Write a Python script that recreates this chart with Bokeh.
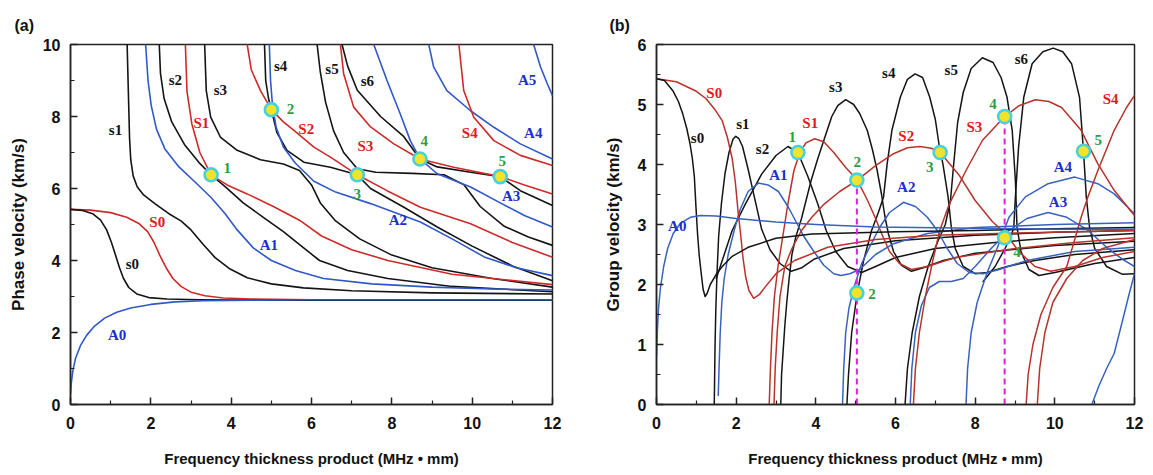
from bokeh.plotting import figure
from bokeh.layouts import row
from bokeh.models import Range1d, FixedTicker, ColumnDataSource
from bokeh.embed import file_html
from bokeh.resources import INLINE
from bokeh.core.properties import value

BLACK = "#141414"
RED = "#cf2a2a"
BLUE = "#3058c8"
RED2 = "#b8332b"
BLUE2 = "#3862c0"
LBL_RED = "#e01b1b"
LBL_BLUE = "#1b2ed0"
GREEN = "#2e9e44"
MAGENTA = "#e020e0"

# ---------------- (a) phase velocity: (fd, cp) ----------------
pv_A0 = [(0.0,0.3),(0.02,0.6),(0.06,0.95),(0.13,1.3),(0.25,1.64),(0.4,1.92),(0.6,2.18),(0.85,2.4),(1.15,2.56),(1.5,2.68),(2.0,2.78),(2.6,2.85),(3.3,2.88),(4.5,2.9),(6.0,2.91),(12.0,2.91)]
pv_s0 = [(0.0,5.42),(0.3,5.39),(0.55,5.3),(0.75,5.12),(0.9,4.85),(1.02,4.5),(1.12,4.15),(1.22,3.8),(1.32,3.5),(1.45,3.25),(1.65,3.07),(1.95,2.97),(2.4,2.93),(3.2,2.91),(4.0,2.9),(12.0,2.9)]
pv_S0 = [(0.0,5.42),(0.5,5.4),(1.0,5.33),(1.4,5.2),(1.7,5.03),(1.92,4.8),(2.08,4.5),(2.22,4.15),(2.38,3.8),(2.55,3.5),(2.75,3.28),(3.0,3.12),(3.35,3.02),(3.8,2.96),(4.5,2.93),(6.0,2.91),(12.0,2.9)]
pv_s1 = [(1.41,10.0),(1.44,8.7),(1.47,7.4),(1.5,6.8),(1.56,6.35),(1.66,6.05),(1.82,5.82),(2.1,5.58),(2.45,5.3),(2.75,5.1),(3.0,4.85),(3.3,4.45),(3.6,4.08),(3.95,3.78),(4.4,3.52),(5.0,3.35),(5.8,3.24),(7.0,3.16),(9.0,3.1),(12.0,3.07)]
pv_A1 = [(1.87,10.0),(1.93,9.0),(2.01,8.3),(2.14,7.65),(2.35,7.1),(2.7,6.6),(3.1,6.18),(3.5,5.75),(3.85,5.3),(4.15,4.85),(4.55,4.35),(5.0,4.0),(5.6,3.72),(6.3,3.5),(7.5,3.35),(9.0,3.26),(10.5,3.21),(12.0,3.18)]
pv_s2 = [(2.21,10.0),(2.24,9.2),(2.33,8.5),(2.52,7.85),(2.85,7.2),(3.2,6.72),(3.5,6.38),(3.85,6.05),(4.3,5.6),(4.8,5.2),(5.3,4.8),(5.75,4.4),(6.2,4.0),(6.9,3.72),(7.9,3.5),(9.5,3.28),(12.0,3.13)]
pv_S1 = [(2.86,10.0),(2.9,8.7),(3.02,7.8),(3.22,7.0),(3.5,6.38),(3.9,6.1),(4.4,5.85),(5.05,5.5),(5.7,5.12),(6.25,4.68),(7.0,4.3),(7.9,4.0),(9.5,3.62),(12.0,3.33)]
pv_s3 = [(3.34,10.0),(3.38,8.72),(3.49,7.98),(3.73,7.43),(4.15,7.06),(4.73,6.8),(5.3,6.68),(5.7,6.5),(6.0,6.1),(6.22,5.6),(6.6,5.1),(7.2,4.6),(8.0,4.15),(9.0,3.8),(10.5,3.5),(12.0,3.26)]
pv_s4 = [(4.83,10.0),(4.86,9.0),(4.93,8.5),(5.0,8.19),(5.14,7.55),(5.39,7.06),(5.81,6.73),(6.47,6.59),(7.14,6.38),(7.47,6.0),(8.3,5.48),(9.13,4.93),(10.0,4.4),(11.0,3.85),(12.0,3.44)]
pv_S2 = [(4.4,10.0),(4.5,9.3),(4.73,8.72),(5.0,8.19),(5.3,7.85),(5.6,7.58),(6.06,7.15),(6.5,6.85),(7.14,6.38),(7.88,5.94),(8.71,5.48),(9.96,5.02),(11.0,4.5),(12.0,4.09)]
pv_A2 = [(4.95,10.0),(4.98,9.0),(5.03,8.3),(5.12,7.7),(5.3,7.15),(5.6,6.7),(6.06,6.2),(6.6,5.9),(7.47,5.58),(8.71,5.07),(9.5,4.6),(10.3,4.1),(11.1,3.8),(12.0,3.58)]
pv_s5 = [(6.14,10.0),(6.22,9.23),(6.35,8.4),(6.55,7.6),(6.8,7.0),(7.14,6.55),(7.6,6.45),(8.5,6.42),(9.3,6.38),(9.8,6.1),(10.2,5.5),(10.8,4.95),(11.4,4.65),(12.0,4.42)]
pv_s6 = [(6.76,10.0),(6.9,9.4),(7.14,8.73),(7.72,8.0),(8.3,7.44),(8.7,6.82),(9.13,6.6),(9.96,6.45),(10.7,6.33),(11.2,5.94),(12.0,5.53)]
pv_S3 = [(6.72,10.0),(6.8,9.19),(7.05,8.26),(7.47,7.71),(8.05,7.24),(8.7,6.82),(9.54,6.59),(10.7,6.33),(11.3,6.1),(12.0,5.85)]
pv_A3 = [(7.55,10.0),(7.88,9.0),(8.21,8.07),(8.46,7.33),(8.7,6.82),(9.13,6.41),(9.96,6.04),(10.7,5.6),(11.3,5.25),(12.0,4.93)]
pv_S4 = [(9.67,10.0),(9.79,8.72),(10.04,7.98),(10.54,7.33),(11.2,6.92),(12.0,6.64)]
pv_A4 = [(8.92,10.0),(9.04,9.38),(9.37,8.72),(9.96,8.16),(10.54,7.7),(11.2,7.24),(12.0,6.82)]
pv_A5 = [(11.53,10.0),(11.7,9.38),(11.87,8.91),(12.0,8.58)]

pv_curves = [
    (pv_s1, BLACK), (pv_s2, BLACK), (pv_s3, BLACK), (pv_s4, BLACK), (pv_s5, BLACK), (pv_s6, BLACK),
    (pv_A1, BLUE), (pv_A2, BLUE), (pv_A3, BLUE), (pv_A4, BLUE), (pv_A5, BLUE),
    (pv_S1, RED), (pv_S2, RED), (pv_S3, RED), (pv_S4, RED),
    (pv_S0, RED), (pv_s0, BLACK), (pv_A0, BLUE),
]

pv_points_fd = [3.5, 5.0, 7.14, 8.7, 10.7]
pv_points_cp = [6.38, 8.19, 6.38, 6.82, 6.33]
pv_num_text = ["1", "2", "3", "4", "5"]
pv_num_fd = [3.9, 5.48, 7.14, 8.81, 10.75]
pv_num_cp = [6.56, 8.21, 5.85, 7.33, 6.76]

pv_lbl_text = ["s0", "s1", "s2", "s3", "s4", "s5", "s6", "S0", "S1", "S2", "S3", "S4", "A0", "A1", "A2", "A3", "A4", "A5"]
pv_lbl_fd = [1.54, 1.12, 2.61, 3.73, 5.23, 6.51, 7.39, 2.16, 3.26, 5.87, 7.34, 9.94, 1.16, 4.94, 8.15, 10.97, 11.52, 11.37]
pv_lbl_cp = [3.91, 7.63, 9.02, 8.74, 9.39, 9.32, 8.98, 5.06, 7.82, 7.66, 7.19, 7.54, 1.94, 4.42, 5.13, 5.78, 7.54, 9.02]

# ---------------- (b) group velocity: (fd, cg) ----------------
gv_A0 = [(0.0,0.8),(0.02,1.2),(0.05,1.6),(0.1,1.95),(0.18,2.3),(0.28,2.6),(0.42,2.85),(0.6,3.02),(0.85,3.12),(1.1,3.15),(1.5,3.14),(2.0,3.1),(3.0,3.04),(4.0,3.0),(5.5,2.96),(7.5,2.94),(10.0,2.92),(12.0,2.92)]
gv_s0 = [(0.0,5.43),(0.2,5.4),(0.41,5.23),(0.55,5.05),(0.66,4.84),(0.76,4.6),(0.84,4.35),(0.9,4.1),(0.95,3.8),(0.99,3.3),(1.03,2.85),(1.07,2.5),(1.12,2.2),(1.17,1.92),(1.22,1.8),(1.27,1.85),(1.35,2.0),(1.5,2.17),(1.65,2.3),(1.9,2.47),(2.3,2.62),(3.0,2.77),(3.9,2.84),(6.0,2.88),(8.0,2.9),(10.0,2.93),(12.0,2.95)]
gv_S0 = [(0.0,5.43),(0.5,5.38),(1.0,5.22),(1.24,5.1),(1.45,4.93),(1.65,4.73),(1.78,4.45),(1.9,4.1),(1.98,3.7),(2.05,3.2),(2.11,2.85),(2.17,2.45),(2.24,2.12),(2.32,1.9),(2.44,1.77),(2.58,1.83),(2.73,1.96),(3.0,2.18),(3.47,2.4),(4.3,2.62),(5.5,2.75),(7.0,2.82),(9.0,2.86),(12.0,2.9)]
gv_s1 = [(1.45,0.0),(1.46,0.5),(1.47,1.0),(1.49,1.6),(1.52,2.2),(1.56,2.8),(1.63,3.35),(1.72,3.85),(1.82,4.2),(1.92,4.42),(1.99,4.47),(2.07,4.43),(2.16,4.3),(2.3,3.92),(2.47,3.42),(2.64,2.92),(2.85,2.58),(3.1,2.35),(3.38,2.22),(3.65,2.28),(3.95,2.42),(4.7,2.6),(6.0,2.73),(8.0,2.82),(10.0,2.87),(12.0,2.9)]
gv_A1 = [(1.55,0.15),(1.57,0.6),(1.6,1.2),(1.64,1.7),(1.7,2.1),(1.8,2.5),(1.95,2.9),(2.1,3.25),(2.3,3.55),(2.56,3.69),(2.8,3.66),(3.06,3.55),(3.3,3.3),(3.5,3.05),(3.7,2.8),(3.95,2.55),(4.2,2.32),(4.45,2.18),(4.63,2.15),(4.85,2.18),(5.1,2.25),(5.5,2.5),(5.95,2.68),(6.8,2.85),(8.0,2.95),(10.0,3.0),(12.0,3.03)]
gv_s2 = [(1.5,2.1),(1.6,2.3),(1.75,2.6),(1.9,2.9),(2.23,3.34),(2.64,3.84),(3.0,4.15),(3.3,4.3),(3.55,4.2),(3.8,3.8),(4.05,3.34),(4.26,2.9),(4.5,2.55),(4.8,2.3),(5.15,2.2),(5.5,2.3),(6.0,2.45),(7.0,2.6),(8.5,2.7),(10.0,2.78),(12.0,2.85)]
gv_S1 = [(2.83,0.0),(2.86,0.6),(2.9,1.2),(2.96,1.8),(3.05,2.3),(3.17,2.8),(3.3,3.35),(3.45,3.9),(3.6,4.2),(3.75,4.36),(3.97,4.43),(4.2,4.38),(4.45,4.2),(4.75,3.95),(5.04,3.74),(5.3,3.4),(5.5,3.1),(5.65,2.85),(5.85,2.55),(6.1,2.35),(6.4,2.25),(6.8,2.3),(7.5,2.45),(9.0,2.6),(10.5,2.7),(12.0,2.78)]
gv_S2 = [(2.95,0.0),(2.98,0.6),(3.03,1.2),(3.1,1.8),(3.22,2.3),(3.4,2.6),(3.64,2.9),(3.9,3.12),(4.21,3.34),(4.6,3.55),(5.04,3.74),(5.5,3.98),(5.95,4.18),(6.3,4.28),(6.61,4.3),(6.9,4.27),(7.12,4.2),(7.6,3.82),(8.0,3.4),(8.43,3.05),(8.76,2.85),(9.1,2.55),(9.5,2.3),(9.9,2.22),(10.5,2.3),(11.2,2.45),(12.0,2.55)]
gv_s3 = [(3.12,0.0),(3.14,0.5),(3.18,0.9),(3.22,1.3),(3.27,1.7),(3.33,2.1),(3.4,2.5),(3.5,2.8),(3.64,3.1),(3.88,3.73),(4.05,4.1),(4.21,4.42),(4.4,4.8),(4.55,4.98),(4.75,5.08),(4.95,5.0),(5.1,4.85),(5.29,4.57),(5.42,4.25),(5.54,3.9),(5.65,3.5),(5.73,3.15),(5.82,2.85),(5.95,2.55),(6.15,2.32),(6.4,2.22),(6.7,2.28),(7.2,2.4),(8.0,2.52),(10.0,2.65),(12.0,2.72)]
gv_A2 = [(4.67,0.0),(4.7,0.6),(4.75,1.2),(4.83,1.6),(4.96,1.96),(5.15,2.35),(5.37,2.65),(5.6,2.95),(5.85,3.2),(6.2,3.37),(6.5,3.3),(6.8,3.12),(7.05,2.9),(7.3,2.6),(7.55,2.35),(7.85,2.2),(8.2,2.18),(8.6,2.25),(9.3,2.4),(10.5,2.55),(12.0,2.62)]
gv_s4 = [(4.78,0.0),(4.82,0.5),(4.9,1.2),(5.04,1.86),(5.2,2.4),(5.4,2.9),(5.57,3.2),(5.7,3.46),(5.79,4.01),(5.91,4.57),(6.12,5.12),(6.3,5.42),(6.49,5.51),(6.68,5.45),(6.86,5.12),(7.0,4.75),(7.1,4.3),(7.19,4.01),(7.32,3.46),(7.4,2.96),(7.5,2.6),(7.7,2.3),(8.0,2.18),(8.3,2.2),(8.8,2.3),(9.5,2.4),(10.5,2.5),(12.0,2.58)]
gv_s5 = [(6.24,0.0),(6.3,0.6),(6.42,1.2),(6.6,1.8),(6.82,2.3),(7.05,2.7),(7.25,3.0),(7.38,3.4),(7.46,4.0),(7.56,4.7),(7.7,5.2),(7.9,5.6),(8.18,5.78),(8.45,5.7),(8.65,5.45),(8.8,5.12),(8.93,4.57),(9.01,3.73),(9.05,2.96),(9.15,2.55),(9.35,2.25),(9.6,2.15),(10.0,2.2),(11.0,2.35),(12.0,2.45)]
gv_s6 = [(8.2,2.05),(8.5,2.3),(8.75,2.6),(8.9,2.8),(8.97,2.96),(9.01,3.46),(9.09,4.29),(9.22,5.12),(9.43,5.68),(9.7,5.88),(9.96,5.94),(10.2,5.88),(10.42,5.68),(10.62,5.12),(10.72,4.22),(10.79,3.46),(10.87,2.96),(11.0,2.6),(11.3,2.3),(11.7,2.17),(12.0,2.18)]
gv_S3 = [(6.45,0.0),(6.5,0.6),(6.6,1.2),(6.75,1.8),(6.92,2.35),(7.11,2.9),(7.35,3.34),(7.77,3.9),(8.18,4.4),(8.74,4.8),(9.1,4.98),(9.51,5.08),(9.85,5.05),(10.17,4.95),(10.66,4.57),(11.08,4.01),(11.49,3.57),(11.9,3.23),(12.0,3.15)]
gv_A3 = [(6.37,0.0),(6.41,0.6),(6.5,1.2),(6.65,1.65),(6.85,1.95),(7.1,2.05),(7.4,2.05),(7.7,2.1),(8.0,2.3),(8.4,2.6),(8.85,2.9),(9.3,3.1),(9.83,3.2),(10.3,3.12),(10.8,2.92),(11.3,2.62),(11.7,2.42),(12.0,2.3)]
gv_A4 = [(7.77,0.0),(7.81,0.6),(7.9,1.2),(8.05,1.7),(8.3,2.2),(8.55,2.6),(8.85,3.12),(9.26,3.46),(9.83,3.68),(10.5,3.79),(11.08,3.68),(11.49,3.51),(12.0,3.18)]
gv_S4 = [(9.28,0.0),(9.33,0.5),(9.45,1.0),(9.65,1.5),(9.95,1.95),(10.3,2.3),(10.5,2.75),(10.66,3.12),(10.83,3.46),(11.08,3.9),(11.49,4.57),(11.8,4.95),(12.0,5.15)]
gv_S5 = [(9.56,0.0),(9.62,0.6),(9.75,1.2),(9.95,1.7),(10.3,2.1),(10.7,2.4),(11.2,2.6),(12.0,2.75)]
gv_A5 = [(10.93,0.0),(11.1,0.3),(11.3,0.6),(11.49,0.85),(11.7,1.4),(11.85,1.8),(12.0,2.18)]

gv_curves = [
    (gv_s1, BLACK), (gv_s2, BLACK), (gv_s3, BLACK), (gv_s4, BLACK), (gv_s5, BLACK), (gv_s6, BLACK),
    (gv_A1, BLUE2), (gv_A2, BLUE2), (gv_A3, BLUE2), (gv_A4, BLUE2), (gv_A5, BLUE2),
    (gv_S1, RED2), (gv_S2, RED2), (gv_S3, RED2), (gv_S4, RED2), (gv_S5, RED2),
    (gv_S0, RED2), (gv_s0, BLACK), (gv_A0, BLUE2),
]

gv_dash_fd = [5.03, 8.74]
gv_dash_top = [3.74, 4.8]

gv_points_fd = [3.55, 5.03, 5.03, 7.12, 8.74, 8.74, 10.72]
gv_points_cg = [4.2, 3.74, 1.86, 4.2, 4.8, 2.78, 4.22]
gv_num_text = ["1", "2", "2", "3", "4", "4", "5"]
gv_num_fd = [3.41, 5.04, 5.41, 6.86, 8.45, 9.05, 11.09]
gv_num_cg = [4.46, 4.04, 1.84, 3.96, 5.01, 2.54, 4.41]

gv_lbl_text = ["S0", "s0", "s1", "s2", "S1", "A1", "A0", "s3", "s4", "s5", "s6", "S2", "S3", "S4", "A2", "A4", "A3"]
gv_lbl_fd = [1.45, 1.03, 2.17, 2.66, 3.86, 3.06, 0.52, 4.5, 5.83, 7.4, 9.16, 6.27, 7.98, 11.4, 6.27, 10.2, 10.08]
gv_lbl_cg = [5.2, 4.45, 4.67, 4.26, 4.69, 3.82, 2.98, 5.29, 5.52, 5.58, 5.76, 4.48, 4.62, 5.09, 3.63, 3.96, 3.37]

FD_TICKS = [0, 2, 4, 6, 8, 10, 12]


def label_color(t):
    if t[0] == "S":
        return LBL_RED
    if t[0] == "A":
        return LBL_BLUE
    return BLACK


def style(p, ymax, yticks, yminor, ylabel, panel, offset):
    p.x_range = Range1d(0, 12)
    p.y_range = Range1d(0, ymax)
    p.grid.visible = False
    p.outline_line_color = "#222222"
    p.outline_line_width = 1.5
    p.background_fill_color = "white"
    p.border_fill_color = "white"
    p.title.text = panel
    p.title.align = "left"
    p.title.offset = offset
    p.title.standoff = 22
    p.title.text_font = "Liberation Sans"
    p.title.text_font_style = "bold"
    p.title.text_font_size = "16px"
    p.title.text_color = "#111111"
    for ax in (p.xaxis[0], p.yaxis[0]):
        ax.axis_line_width = 1.5
        ax.axis_line_color = "#222222"
        ax.major_tick_in = 7
        ax.major_tick_out = 0
        ax.minor_tick_in = 4
        ax.minor_tick_out = 0
        ax.major_tick_line_width = 1.5
        ax.minor_tick_line_width = 1.2
        ax.major_tick_line_color = "#222222"
        ax.minor_tick_line_color = "#222222"
        ax.major_label_text_font = "Liberation Sans"
        ax.major_label_text_font_style = "bold"
        ax.major_label_text_font_size = "16px"
        ax.major_label_text_color = "#111111"
        ax.axis_label_text_font = "Liberation Sans"
        ax.axis_label_text_font_style = "bold"
        ax.axis_label_text_color = "#111111"
    p.xaxis[0].axis_label_text_font_size = "15px"
    p.yaxis[0].axis_label_text_font_size = "17px"
    p.xaxis[0].ticker = FixedTicker(ticks=FD_TICKS, minor_ticks=[1, 3, 5, 7, 9, 11])
    p.yaxis[0].ticker = FixedTicker(ticks=yticks, minor_ticks=yminor)
    p.xaxis[0].axis_label = "Frequency thickness product (MHz \u2022 mm)"
    p.yaxis[0].axis_label = ylabel
    p.xaxis[0].major_label_standoff = 12
    p.xaxis[0].axis_label_standoff = 18
    p.yaxis[0].major_label_standoff = 10
    p.yaxis[0].axis_label_standoff = 12


def draw(p, curves, lw):
    for pts, col in curves:
        xs = [a for a, b in pts]
        ys = [b for a, b in pts]
        p.line(xs, ys, line_color=col, line_width=lw, line_join="round", line_cap="round")


def labels(p, xs, ys, texts, size, colors):
    src = ColumnDataSource(dict(x=xs, y=ys, t=texts, c=colors))
    p.text(x="x", y="y", text="t", text_color="c", source=src,
           text_font=value("Liberation Serif"), text_font_style="bold",
           text_font_size=value(size), text_align="center", text_baseline="middle")


def markers(p, xs, ys):
    p.scatter(xs, ys, size=13, fill_color="#f2e22a", line_color="#46d2dc", line_width=2.6)


# ---- left figure ----
pa = figure(width=600, height=475, output_backend="svg", toolbar_location=None,
            min_border_left=70, min_border_right=48, min_border_top=44, min_border_bottom=71)
style(pa, 10, [0, 2, 4, 6, 8, 10], [1, 3, 5, 7, 9], "Phase velocity (km/s)", "(a)", -56)
draw(pa, pv_curves, 1.6)
markers(pa, pv_points_fd, pv_points_cp)
labels(pa, pv_lbl_fd, pv_lbl_cp, pv_lbl_text, "15px", [label_color(t) for t in pv_lbl_text])
labels(pa, pv_num_fd, pv_num_cp, pv_num_text, "15px", [GREEN] * len(pv_num_text))

# ---- right figure ----
pb = figure(width=553, height=475, output_backend="svg", toolbar_location=None,
            min_border_left=50, min_border_right=19, min_border_top=44, min_border_bottom=71)
style(pb, 6, [0, 1, 2, 3, 4, 5, 6], [0.5, 1.5, 2.5, 3.5, 4.5, 5.5], "Group velocity (km/s)", "(b)", -47)
draw(pb, gv_curves, 1.5)
for fx, top in zip(gv_dash_fd, gv_dash_top):
    pb.line([fx, fx], [0, top], line_color=MAGENTA, line_width=2, line_dash="6 4")
markers(pb, gv_points_fd, gv_points_cg)
labels(pb, gv_lbl_fd, gv_lbl_cg, gv_lbl_text, "15px", [label_color(t) for t in gv_lbl_text])
labels(pb, gv_num_fd, gv_num_cg, gv_num_text, "15px", [GREEN] * len(gv_num_text))

layout = row(pa, pb)
open("out.html", "w").write(file_html(layout, INLINE))
